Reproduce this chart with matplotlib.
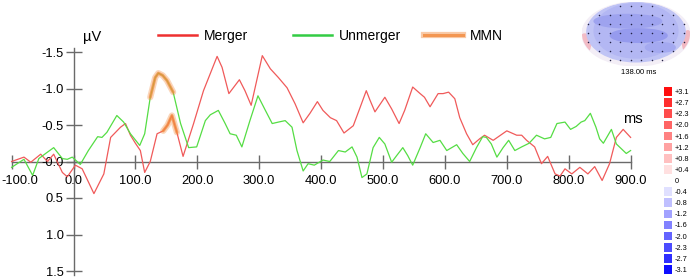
import matplotlib
matplotlib.use('Agg')
import matplotlib.pyplot as plt
import numpy as np
from matplotlib.lines import Line2D
from matplotlib.legend import Legend
from matplotlib.patches import Ellipse
from matplotlib.colors import Normalize

plt.rcParams['font.family'] = ['Liberation Sans', 'DejaVu Sans']

##data (ms, uV; negative up)
merger_ms = [-100, -80, -69, -53, -42, -32, -18, -10, 3, 14, 33, 49, 60, 76, 84, 92, 100, 108,
             115, 124, 135, 145, 152, 159, 167, 177, 194, 210, 232, 240, 251, 268, 277, 287,
             305, 318, 331, 345, 358, 371, 382, 394, 403, 415, 425, 437, 452, 463, 473, 479,
             487, 503, 514, 526, 535, 548, 560, 567, 576, 589, 597, 606, 616, 624, 635, 645,
             656, 664, 678, 700, 716, 724, 732, 745, 756, 766, 778, 786, 794, 805, 818, 831,
             842, 854, 866, 877, 888, 900]
merger_uv = [0.0, -0.06, 0.01, -0.10, 0.0, -0.10, 0.15, 0.21, 0.05, 0.10, 0.44, 0.17, -0.33,
             -0.47, -0.52, -0.36, -0.25, -0.15, 0.15, 0.0, -0.38, -0.42, -0.50, -0.63, -0.40,
             -0.07, -0.52, -0.97, -1.44, -1.29, -0.93, -1.12, -0.97, -0.77, -1.45, -1.27,
             -1.15, -1.01, -0.79, -0.53, -0.66, -0.82, -0.70, -0.60, -0.56, -0.39, -0.49,
             -0.74, -0.97, -0.84, -0.68, -0.88, -0.72, -0.52, -0.70, -1.02, -0.93, -0.88,
             -0.75, -0.93, -0.93, -0.95, -0.86, -0.60, -0.38, -0.23, -0.31, -0.36, -0.29,
             -0.42, -0.36, -0.36, -0.29, -0.20, 0.03, -0.07, 0.17, 0.20, 0.10, 0.17, 0.08,
             0.17, 0.07, 0.26, 0.03, -0.33, -0.44, -0.33]

unmerger_ms = [-100, -80, -66, -56, -45, -32, -18, -10, -2, 11, 24, 39, 46, 54, 70, 81, 92,
               107, 115, 124, 132, 137, 144, 151, 161, 173, 186, 199, 213, 221, 234, 245, 253,
               263, 272, 285, 298, 310, 321, 331, 342, 353, 361, 371, 379, 389, 403, 414, 428,
               439, 450, 458, 466, 474, 484, 494, 503, 514, 522, 532, 540, 548, 560, 569, 581,
               592, 603, 619, 629, 640, 651, 661, 667, 675, 684, 694, 703, 713, 724, 736, 748,
               761, 771, 781, 794, 803, 812, 820, 826, 835, 844, 850, 856, 869, 877, 893, 900]
unmerger_uv = [0.08, -0.03, 0.19, -0.04, -0.11, -0.19, -0.04, -0.03, -0.06, 0.04, -0.15,
               -0.34, -0.33, -0.40, -0.63, -0.54, -0.38, -0.22, -0.38, -0.88, -1.15, -1.21,
               -1.18, -1.11, -0.95, -0.52, -0.19, -0.20, -0.56, -0.64, -0.70, -0.52, -0.38,
               -0.36, -0.20, -0.56, -0.90, -0.70, -0.52, -0.54, -0.56, -0.47, -0.15, 0.13,
               0.03, 0.05, -0.02, 0.0, -0.15, -0.13, -0.20, -0.06, 0.22, 0.17, -0.19, -0.33,
               -0.24, 0.01, -0.08, -0.19, -0.08, 0.05, -0.19, -0.38, -0.26, -0.29, -0.15,
               -0.23, -0.11, 0.0, -0.19, -0.34, -0.33, -0.24, -0.06, -0.19, -0.29, -0.15,
               -0.20, -0.25, -0.36, -0.31, -0.33, -0.52, -0.54, -0.44, -0.48, -0.54, -0.56,
               -0.66, -0.47, -0.31, -0.25, -0.44, -0.24, -0.11, -0.15]

# MMN windows (ms) highlighted on each curve
mmn_unmerger_win = (124, 162)
mmn_merger_win = (140, 168)

x_ticks = [-100, 0, 100, 200, 300, 400, 500, 600, 700, 800, 900]
x_labels = ['-100.0', '0.0', '100.0', '200.0', '300.0', '400.0', '500.0', '600.0',
            '700.0', '800.0', '900.0']
y_ticks = [-1.5, -1.0, -0.5, 0.0, 0.5, 1.0, 1.5]
y_labels = ['-1.5', '-1.0', '-0.5', '-0.0', '0.5', '1.0', '1.5']

cbar_levels = [3.1, 2.7, 2.3, 2.0, 1.6, 1.2, 0.8, 0.4, 0, -0.4, -0.8, -1.2, -1.6, -2.0,
               -2.3, -2.7, -3.1]
cbar_labels = ['+3.1', '+2.7', '+2.3', '+2.0', '+1.6', '+1.2', '+0.8', '+0.4', '0', '-0.4',
               '-0.8', '-1.2', '-1.6', '-2.0', '-2.3', '-2.7', '-3.1']
map_time = '138.00 ms'

red = '#f05a5a'
green = '#55dd44'
orange = '#f28a3c'
axcol = '#6a6a6a'

fig = plt.figure(figsize=(6.91, 2.77), dpi=100)
ax = fig.add_axes([0, 0, 1, 1])
ax.set_xlim(-73.5 / 0.619, (691 - 73.5) / 0.619)
ax.set_ylim(115.5 / 73, -161.5 / 73)

##axes through zero
for s in ['top', 'right']:
    ax.spines[s].set_visible(False)
ax.spines['left'].set_position(('data', 0))
ax.spines['bottom'].set_position(('data', 0))
ax.spines['left'].set_bounds(-1.55, 1.55)
ax.spines['bottom'].set_bounds(-100, 900)
for s in ['left', 'bottom']:
    ax.spines[s].set_color(axcol)
    ax.spines[s].set_linewidth(1)
    ax.spines[s].set_zorder(1)

ax.set_xticks(x_ticks, [''] + x_labels[1:])
ax.set_yticks(y_ticks, y_labels)
ax.tick_params(axis='x', direction='inout', length=10, width=1, color=axcol, pad=4.8,
               labelsize=9.3)
ax.tick_params(axis='y', direction='inout', length=12, width=1, color=axcol, pad=1.2,
               labelsize=9.3)
# first label sits right of its tick so it is not cut at the edge
ax.annotate(x_labels[0], xy=(x_ticks[0], 0), xytext=(5.8, -9.8), textcoords='offset points',
            ha='center', va='top', fontsize=9.3, annotation_clip=False)

##curves
ax.plot(merger_ms, merger_uv, color=red, lw=0.9, zorder=3)
ax.plot(unmerger_ms, unmerger_uv, color=green, lw=0.9, zorder=3)

def highlight(t, v, win):
    t = np.array(t)
    v = np.array(v)
    m = (t >= win[0]) & (t <= win[1])
    ax.plot(t[m], v[m], color=orange, lw=4.5, alpha=0.35, solid_capstyle='round', zorder=4)
    ax.plot(t[m], v[m], color=orange, lw=2.2, alpha=0.7, solid_capstyle='round', zorder=4)

highlight(unmerger_ms, unmerger_uv, mmn_unmerger_win)
highlight(merger_ms, merger_uv, mmn_merger_win)

fig.text(83 / 691, 1 - 37 / 277, 'µV', fontsize=10.5, va='center')
fig.text(623 / 691, 1 - 119 / 277, 'ms', fontsize=10.5, va='center')

##legend, three separate entries
h_merger = Line2D([], [], color='#ee3030', lw=1.8)
h_unmerger = Line2D([], [], color='#33cc44', lw=1.8)
h_mmn = (Line2D([], [], color=orange, lw=4.5, alpha=0.45),
         Line2D([], [], color=orange, lw=2.2, alpha=0.8))
for xp, h, lab in [(158, h_merger, 'Merger'), (293, h_unmerger, 'Unmerger'),
                   (424, h_mmn, 'MMN')]:
    leg = Legend(ax, [h], [lab], loc='center left', bbox_to_anchor=(xp / 691, 1 - 36 / 277),
                 bbox_transform=fig.transFigure, frameon=False, borderpad=0, borderaxespad=0,
                 handlelength=2.8, handletextpad=0.5, fontsize=10)
    ax.add_artist(leg)

##head map inset
hm = fig.add_axes([582 / 691, 1 - 66 / 277, 108 / 691, 64 / 277])
hm.set_xlim(-1, 1)
hm.set_ylim(-1, 1)
hm.axis('off')
head = Ellipse((0, 0), 2, 2, color='#f3eef6')
hm.add_patch(head)
blobs = [((-0.95, -0.3), 0.22, 0.6, '#f2bcc6'),
         ((0.96, -0.25), 0.2, 0.7, '#f2b8c2'),
         ((0, 0.06), 1.82, 1.86, '#c0c4f5'),
         ((0, 0.1), 1.55, 1.7, '#b3b7f3'),
         ((-0.15, 0.4), 1.25, 0.42, '#9ea3ef'),
         ((0.05, -0.05), 1.05, 0.42, '#969bee'),
         ((0.45, -0.42), 0.55, 0.3, '#a4a9f0')]
for c, w, h, col in blobs:
    p = Ellipse(c, w, h, color=col)
    hm.add_patch(p)
    p.set_clip_path(head)
gx, gy = np.meshgrid(np.linspace(-0.88, 0.88, 10), np.linspace(-0.82, 0.86, 7))
inside = (gx / 0.95) ** 2 + (gy / 0.97) ** 2 < 1
hm.plot(gx[inside], gy[inside], 'o', color='#222244', ms=1.1, mew=0)
fig.text(639 / 691, 1 - 73 / 277, map_time, fontsize=5.5, ha='center', va='center')

##colour scale
cax = fig.add_axes([664 / 691, 1 - 275 / 277, 8 / 691, 189 / 277])
norm = Normalize(-3.3, 3.3)
cmap = plt.get_cmap('bwr')
cax.barh(range(len(cbar_levels)), [1] * len(cbar_levels), height=0.78,
         color=cmap(norm(np.array(cbar_levels))))
cax.set_xlim(0, 1)
cax.set_ylim(len(cbar_levels) - 0.5, -0.5)
for s in cax.spines.values():
    s.set_visible(False)
cax.set_xticks([])
cax.yaxis.tick_right()
cax.set_yticks(range(len(cbar_levels)), cbar_labels)
cax.tick_params(axis='y', length=0, pad=2, labelsize=5.3)

plt.savefig('out.png', dpi=100)
